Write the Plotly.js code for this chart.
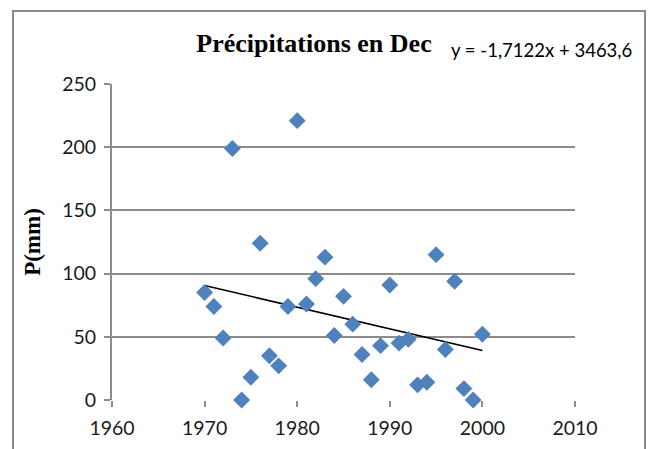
<!DOCTYPE html>
<html>
<head>
<meta charset="utf-8">
<script src="https://cdn.plot.ly/plotly-3.0.1.min.js"></script>
<style>
html,body{margin:0;padding:0;background:#fff;}
#wrap{position:relative;width:654px;height:449px;}
#chart{position:absolute;left:0;top:0;width:654px;height:449px;}
#frame{position:absolute;left:12px;top:10px;width:634px;height:460px;border:2px solid #8c8c8c;pointer-events:none;box-sizing:border-box;}
</style>
</head>
<body>
<div id="wrap"><div id="chart"></div><div id="frame"></div></div>
<script>
const years = [1970,1971,1972,1973,1974,1975,1976,1977,1978,1979,1980,1981,1982,1983,1984,1985,1986,1987,1988,1989,1990,1991,1992,1993,1994,1995,1996,1997,1998,1999,2000];
const precip = [85,74,49,199,0,18,124,35,27,74,221,76,96,113,51,82,60,36,16,43,91,45,48,12,14,115,40,94,9,0,52];
const trendSlope = -1.7122;
const trendIntercept = 3463.6;
const xTicks = [1960,1970,1980,1990,2000,2010];
const yTicks = [0,50,100,150,200,250];
const titleText = "Précipitations en Dec";
const eqText = "y = -1,7122x + 3463,6";
const yTitle = "P(mm)";

const trendX = [Math.min(...years), Math.max(...years)];
const trendY = trendX.map(x => trendSlope * x + trendIntercept);

const tickFont = {family: "Lato, 'Liberation Sans', sans-serif", size: 19.5, color: "#1a1a1a"};

const data = [
  {x: trendX, y: trendY, type: "scatter", mode: "lines", line: {color: "#000", width: 1.6}, hoverinfo: "skip", cliponaxis: false},
  {x: years, y: precip, type: "scatter", mode: "markers", cliponaxis: false,
   marker: {symbol: "diamond", size: 13, color: "#4F81BD", line: {width: 0}}}
];

const layout = {
  width: 654, height: 449,
  margin: {l: 112, r: 79, t: 84, b: 49},
  paper_bgcolor: "#fff", plot_bgcolor: "#fff",
  showlegend: false,
  title: {text: "<b>" + titleText + "</b>", font: {family: "'Liberation Serif', 'Times New Roman', serif", size: 26, color: "#000"}, x: 314/654, xanchor: "center", y: 1 - 43/449, yanchor: "middle"},
  xaxis: {range: [1960, 2010], tickvals: xTicks, ticktext: xTicks.map(String), showgrid: false, zeroline: false,
          showline: false, ticks: "outside", ticklen: 6, tickcolor: "#8c8c8c", tickwidth: 2, tickfont: tickFont, ticklabelstandoff: 5},
  yaxis: {range: [0, 250], tickvals: yTicks, ticktext: yTicks.map(String), showgrid: true, gridcolor: "#8c8c8c", gridwidth: 2,
          zeroline: false, showline: true, linecolor: "#8c8c8c", linewidth: 2, ticks: "outside", ticklen: 6, tickcolor: "#8c8c8c", tickwidth: 2,
          tickfont: tickFont, ticklabelstandoff: 4,
          title: {text: "<b>" + yTitle + "</b>", font: {family: "'Liberation Serif', 'Times New Roman', serif", size: 23, color: "#000"}, standoff: 15}},
  annotations: [
    {text: eqText, xref: "paper", yref: "paper", x: (449-112)/463, y: 1 + (84-50)/316, xanchor: "left", yanchor: "middle", showarrow: false,
     font: {family: "Lato, 'Liberation Sans', sans-serif", size: 18.5, color: "#000"}}
  ]
};

Plotly.newPlot("chart", data, layout, {displayModeBar: false, staticPlot: true});
</script>
</body>
</html>
